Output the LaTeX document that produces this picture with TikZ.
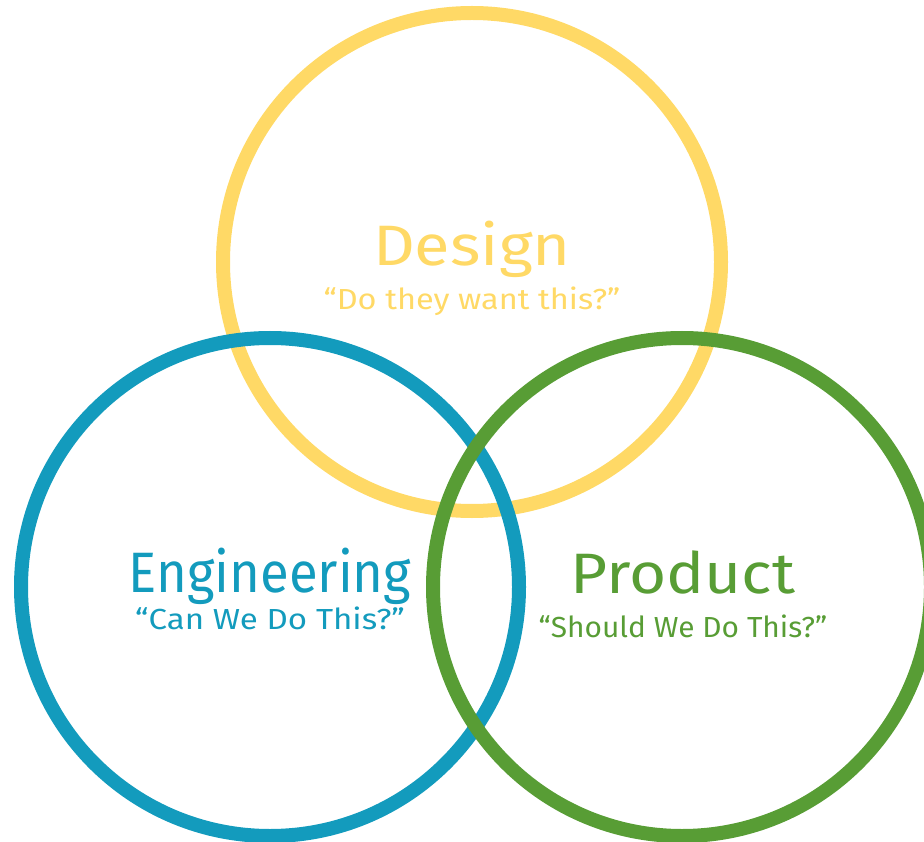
\documentclass[tikz,border=0pt]{standalone}
\usepackage{fontspec}
\setmainfont{Fira Sans}
\definecolor{cyellow}{HTML}{FFD966}
\definecolor{cblue}{HTML}{139BBD}
\definecolor{cgreen}{HTML}{589D35}
\begin{document}
\begin{tikzpicture}[x=1pt,y=-1pt,
  ring/.style={line width=14pt},
  title/.style={anchor=base,inner sep=0pt,font=\fontsize{57}{62}\selectfont},
  sub/.style={anchor=base,inner sep=0pt,font=\fontsize{29}{34}\selectfont}]
\useasboundingbox (0,0) rectangle (924,842);
\begin{scope}
\clip (0,0) rectangle (924,842);
\draw[ring,cyellow] (472,262) circle[radius=249];
\draw[ring,cblue] (270,587) circle[radius=249];
\draw[ring,cgreen] (682,587) circle[radius=249];
\end{scope}
\node[title,text=cyellow] (dt) at (472,266) {\scalebox{1.14}[1]{Design}};
\node[sub,text=cyellow] (ds) at (472,310) {\scalebox{1.12}[1]{“Do they want this?”}};
\node[title,text=cblue] (et) at (270,592) {\scalebox{0.924}[1]{Engineering}};
\node[sub,text=cblue] (es) at (270,629) {\scalebox{1.14}[1]{“Can We Do This?”}};
\node[title,text=cgreen] (pt) at (683,593) {\scalebox{1.12}[1]{Product}};
\node[sub,text=cgreen] (ps) at (683,637) {\scalebox{1.03}[1]{“Should We Do This?”}};
\end{tikzpicture}
\end{document}
